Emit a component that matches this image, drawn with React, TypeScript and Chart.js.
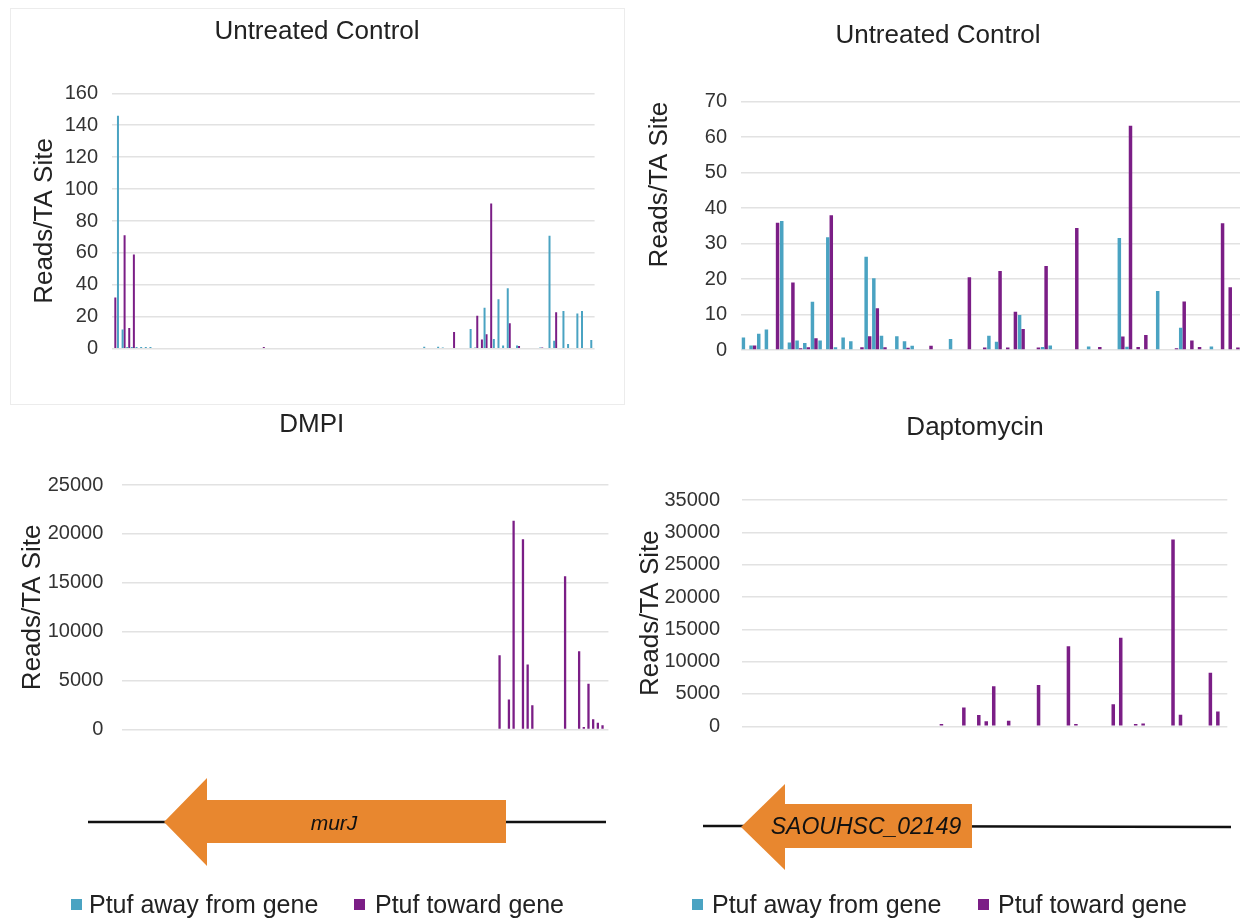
import React, { useEffect, useRef } from "react";
import { Chart, registerables } from "chart.js";

Chart.register(...registerables);

// ---------- DATA ----------
// murJ, Untreated Control (104 TA sites)
const murjControlAway = [
  0, 146, 12, 1, 1, 1, 1, 1, 1, 0,
  0, 0, 0, 0, 0, 0, 0, 0, 0, 0,
  0, 0, 0, 0, 0, 0, 0, 0, 0, 0,
  0, 0, 0, 0, 0, 0, 0, 0, 0, 0,
  0, 0, 0, 0, 0, 0, 0, 0, 0, 0,
  0, 0, 0, 0, 0, 0, 0, 0, 0, 0,
  0, 0, 0, 0, 0, 0, 0, 1.2, 0, 0,
  1.2, 0.8, 0, 0, 0, 0, 0, 12.3, 0.8, 0,
  25.7, 0, 6, 31, 2, 37.8, 0, 2, 0, 0,
  0, 0, 0.8, 0, 70.8, 5, 0, 23.6, 2.9, 0,
  22.1, 23.6, 0, 5.4,
];
const murjControlToward = [
  32, 0, 71, 13, 59, 0, 0, 0, 0, 0,
  0, 0, 0, 0, 0, 0, 0, 0, 0, 0,
  0, 0, 0, 0, 0, 0, 0, 0, 0, 0,
  0, 0, 1, 0, 0, 0, 0, 0, 0, 0,
  0, 0, 0, 0, 0, 0, 0, 0, 0, 0,
  0, 0, 0, 0, 0, 0, 0, 0, 0, 0,
  0, 0, 0, 0, 0, 0, 0, 0, 0, 0,
  0, 0, 0, 10.4, 0, 0, 0, 0, 20.7, 5.8,
  9, 91, 0, 0, 0, 15.9, 0, 1.7, 0, 0,
  0, 0, 0.8, 0, 0, 22.8, 0, 0, 0, 0,
  0, 0, 0, 0,
];

// SAOUHSC_02149, Untreated Control (65 TA sites)
const saoControlAway = [
  3.5, 1.3, 4.6, 5.8, 0, 36.4, 2.1, 2.7, 2.0, 13.6,
  2.7, 31.8, 0.8, 3.5, 2.5, 0, 26.3, 20.2, 4, 0,
  3.9, 2.5, 1.2, 0, 0, 0, 0, 3.1, 0, 0,
  0, 0, 4.0, 2.35, 0, 0, 9.9, 0, 0, 0.85,
  1.3, 0, 0, 0, 0, 1.0, 0, 0, 0, 31.6,
  0.9, 0, 0, 0, 16.6, 0, 0, 6.3, 0, 0,
  0, 1.0, 0, 0, 0,
];
const saoControlToward = [
  0, 1.3, 0, 0, 35.9, 0, 19, 0.5, 0.75, 3.3,
  0, 38, 0, 0, 0, 0.75, 3.9, 11.8, 0.75, 0,
  0, 0.6, 0, 0, 1.2, 0, 0, 0, 0, 20.5,
  0, 0.7, 0, 22.3, 0.7, 10.8, 5.9, 0, 0.7, 23.7,
  0, 0, 0, 34.4, 0, 0, 0.85, 0, 0, 3.8,
  63.2, 0.85, 4.2, 0, 0, 0, 0.5, 13.7, 2.7, 0.85,
  0, 0, 35.7, 17.7, 0.7,
];

// murJ, DMPI (104 TA sites)
const murjDmpiAway = [
  90, 0, 0, 0, 0, 0, 0, 0, 0, 0,
  0, 0, 0, 0, 0, 0, 0, 0, 0, 0,
  0, 0, 0, 0, 0, 0, 0, 0, 0, 0,
  0, 0, 0, 0, 0, 0, 0, 0, 0, 0,
  0, 0, 0, 0, 0, 0, 0, 0, 0, 0,
  0, 0, 0, 0, 0, 0, 0, 0, 0, 0,
  0, 0, 0, 0, 0, 0, 0, 0, 90, 90,
  0, 0, 90, 0, 0, 90, 0, 0, 0, 0,
  0, 0, 0, 0, 0, 0, 0, 0, 0, 90,
  90, 0, 0, 90, 0, 90, 0, 0, 0, 0,
  0, 0, 0, 0,
];
const murjDmpiToward = [
  90, 0, 0, 0, 0, 0, 0, 0, 0, 0,
  0, 0, 0, 0, 0, 0, 0, 0, 0, 0,
  0, 0, 0, 0, 0, 0, 0, 0, 0, 0,
  0, 0, 0, 0, 0, 0, 0, 0, 0, 0,
  0, 0, 0, 0, 0, 0, 0, 0, 0, 0,
  0, 0, 0, 0, 0, 0, 0, 0, 0, 90,
  0, 0, 0, 0, 0, 0, 0, 0, 90, 90,
  0, 0, 90, 90, 0, 90, 90, 0, 0, 0,
  7600, 90, 3070, 21340, 90, 19450, 6660, 2490, 0, 90,
  90, 90, 0, 90, 15680, 90, 0, 8010, 270, 4680,
  1050, 710, 440, 0,
];

// SAOUHSC_02149, Daptomycin (65 TA sites)
const saoDaptoAway = [
  130, 0, 0, 0, 0, 0, 0, 0, 0, 0,
  0, 0, 0, 0, 0, 0, 0, 0, 0, 0,
  0, 0, 0, 0, 0, 0, 0, 0, 0, 0,
  0, 0, 0, 0, 0, 0, 0, 0, 0, 0,
  0, 0, 0, 0, 0, 0, 0, 0, 0, 0,
  0, 0, 0, 0, 0, 0, 0, 0, 0, 0,
  0, 0, 0, 0, 0,
];
const saoDaptoToward = [
  0, 0, 0, 0, 0, 0, 0, 0, 0, 0,
  0, 0, 0, 0, 0, 0, 0, 0, 0, 130,
  130, 130, 130, 130, 0, 130, 350, 130, 130, 2900,
  130, 1750, 770, 6180, 0, 860, 130, 130, 130, 6380,
  0, 130, 130, 12400, 350, 0, 130, 130, 130, 3400,
  13700, 0, 350, 450, 130, 130, 130, 28900, 1780, 0,
  130, 0, 8270, 2290, 130,
];

const seriesNames = ["Ptuf away from gene", "Ptuf toward gene"];
const panelTitles = ["Untreated Control", "Untreated Control", "DMPI", "Daptomycin"];
const yAxisTitle = "Reads/TA Site";
const yMaxes = [160, 70, 25000, 35000];
const ySteps = [20, 10, 5000, 5000];
const geneNames = ["murJ", "SAOUHSC_02149"];

// ---------- STYLE ----------
const FONT = "'Liberation Sans', Arial, Helvetica, sans-serif";
const CYAN = "#4AA3C2";
const PURPLE = "#7B1E86";
const GRID = "#e2e2e2";
const TEXT = "#222222";
const TICK = "#333333";
const ORANGE = "#E8872F";

type PanelCfg = {
  x: number; y: number; w: number; h: number;
  title: string; away: number[]; toward: number[];
  yMax: number; yStep: number;
  padL: number; padR: number; padB: number;
  titleTop: number; titleBottom: number;
  yWidth: number; yTitlePad: number; yTitleAlign: string; tickPad: number;
  rightWidth: number; catPct: number;
};

function BarPanel({ cfg }: { cfg: PanelCfg }) {
  const ref = useRef<HTMLCanvasElement>(null);
  useEffect(() => {
    const labels = cfg.away.map((_, i) => String(i + 1));
    const scales: any = {
      x: { display: false, grid: { display: false } },
      y: {
        min: 0,
        max: cfg.yMax,
        border: { display: false },
        grid: { color: GRID, lineWidth: 1.5, drawTicks: false },
        ticks: {
          stepSize: cfg.yStep,
          padding: cfg.tickPad,
          color: TICK,
          font: { family: FONT, size: 20 },
          callback: (v: any) => String(v),
        },
        title: {
          display: true,
          text: yAxisTitle,
          color: TEXT,
          align: cfg.yTitleAlign,
          font: { family: FONT, size: 26 },
          padding: { top: cfg.yTitlePad, bottom: 0 },
        },
        afterFit: (s: any) => { s.width = cfg.yWidth; },
      },
    };
    if (cfg.rightWidth > 0) {
      scales.yRight = {
        type: "linear",
        position: "right",
        display: true,
        border: { display: false },
        grid: { display: false, drawTicks: false },
        ticks: { display: false },
        afterFit: (s: any) => { s.width = cfg.rightWidth; },
      };
    }
    const chart = new Chart(ref.current!, {
      type: "bar",
      data: {
        labels,
        datasets: [
          { label: seriesNames[0], data: cfg.away, backgroundColor: CYAN, borderWidth: 0, categoryPercentage: cfg.catPct, barPercentage: 1, yAxisID: "y" },
          { label: seriesNames[1], data: cfg.toward, backgroundColor: PURPLE, borderWidth: 0, categoryPercentage: cfg.catPct, barPercentage: 1, yAxisID: "y" },
        ],
      },
      options: {
        responsive: false,
        animation: false,
        devicePixelRatio: 1,
        layout: { padding: { left: cfg.padL, right: cfg.padR, top: 0, bottom: cfg.padB } },
        plugins: {
          legend: { display: false },
          tooltip: { enabled: false },
          title: {
            display: true,
            text: cfg.title,
            color: TEXT,
            font: { family: FONT, size: 26, weight: "normal" },
            padding: { top: cfg.titleTop, bottom: cfg.titleBottom },
          },
        },
        scales,
      },
    } as any);
    return () => chart.destroy();
  }, []);
  return (
    <canvas
      ref={ref}
      width={cfg.w}
      height={cfg.h}
      style={{ position: "absolute", left: cfg.x, top: cfg.y, width: cfg.w, height: cfg.h }}
    />
  );
}

const panels: PanelCfg[] = [
  {
    x: 10, y: 8, w: 616, h: 398, title: panelTitles[0], away: murjControlAway, toward: murjControlToward,
    yMax: yMaxes[0], yStep: ySteps[0], padL: 29.4, padR: 31.4, padB: 57.3,
    titleTop: 8.1, titleBottom: 46, yWidth: 72.6, yTitlePad: -10, yTitleAlign: "center", tickPad: 14,
    rightWidth: 0, catPct: 0.86,
  },
  {
    x: 630, y: 8, w: 613, h: 398, title: panelTitles[1], away: saoControlAway, toward: saoControlToward,
    yMax: yMaxes[1], yStep: ySteps[1], padL: 6, padR: 3, padB: 56,
    titleTop: 11.9, titleBottom: 50.6, yWidth: 105.3, yTitlePad: 8.4, yTitleAlign: "end", tickPad: 14.3,
    rightWidth: 0, catPct: 0.91,
  },
  {
    x: 0, y: 400, w: 630, h: 360, title: panelTitles[2], away: murjDmpiAway, toward: murjDmpiToward,
    yMax: yMaxes[2], yStep: ySteps[2], padL: 15, padR: 21.6, padB: 27.3,
    titleTop: 9.4, titleBottom: 44.4, yWidth: 106.7, yTitlePad: 2.4, yTitleAlign: "center", tickPad: 18.4,
    rightWidth: 0, catPct: 0.98,
  },
  {
    x: 630, y: 400, w: 670, h: 360, title: panelTitles[3], away: saoDaptoAway, toward: saoDaptoToward,
    yMax: yMaxes[3], yStep: ySteps[3], padL: 20, padR: 0, padB: 31.7,
    titleTop: 12.4, titleBottom: 56.4, yWidth: 91.7, yTitlePad: -14.6, yTitleAlign: "center", tickPad: 21.7,
    rightWidth: 72.7, catPct: 0.94,
  },
];

function LegendRow({ x1, t1, x2, t2 }: { x1: number; t1: number; x2: number; t2: number }) {
  const sq = (left: number, color: string) => (
    <div style={{ position: "absolute", left, top: 899, width: 11, height: 11, background: color }} />
  );
  const txt = (left: number, s: string) => (
    <div style={{ position: "absolute", left, top: 889, lineHeight: "30px", fontSize: 25, fontFamily: FONT, color: TEXT, whiteSpace: "nowrap" }}>{s}</div>
  );
  return (
    <>
      {sq(x1, CYAN)}
      {txt(t1, seriesNames[0])}
      {sq(x2, PURPLE)}
      {txt(t2, seriesNames[1])}
    </>
  );
}

export default function App() {
  return (
    <div style={{ position: "absolute", left: 0, top: 0, width: 1243, height: 919, background: "#fff", overflow: "hidden" }}>
      <div style={{ position: "absolute", left: 10, top: 8, width: 615, height: 397, border: "1px solid #ececec", boxSizing: "border-box" }} />
      {panels.map((p, i) => <BarPanel key={i} cfg={p} />)}
      <svg width={1243} height={919} style={{ position: "absolute", left: 0, top: 0 }}>
        <line x1={88} y1={822} x2={606} y2={822} stroke="#111" strokeWidth={2.5} />
        <polygon points="164,822 207,778 207,800 506,800 506,843 207,843 207,866" fill={ORANGE} />
        <text x={334} y={822} textAnchor="middle" dominantBaseline="central" fontFamily={FONT} fontStyle="italic" fontSize={21} fill="#111">{geneNames[0]}</text>
        <line x1={703} y1={826} x2={1231} y2={827} stroke="#111" strokeWidth={2.5} />
        <polygon points="741,827 785,784 785,804 972,804 972,848 785,848 785,870" fill={ORANGE} />
        <text x={866} y={826} textAnchor="middle" dominantBaseline="central" fontFamily={FONT} fontStyle="italic" fontSize={23} fill="#111">{geneNames[1]}</text>
      </svg>
      <LegendRow x1={71} t1={89} x2={354} t2={375} />
      <LegendRow x1={692} t1={712} x2={978} t2={998} />
    </div>
  );
}
